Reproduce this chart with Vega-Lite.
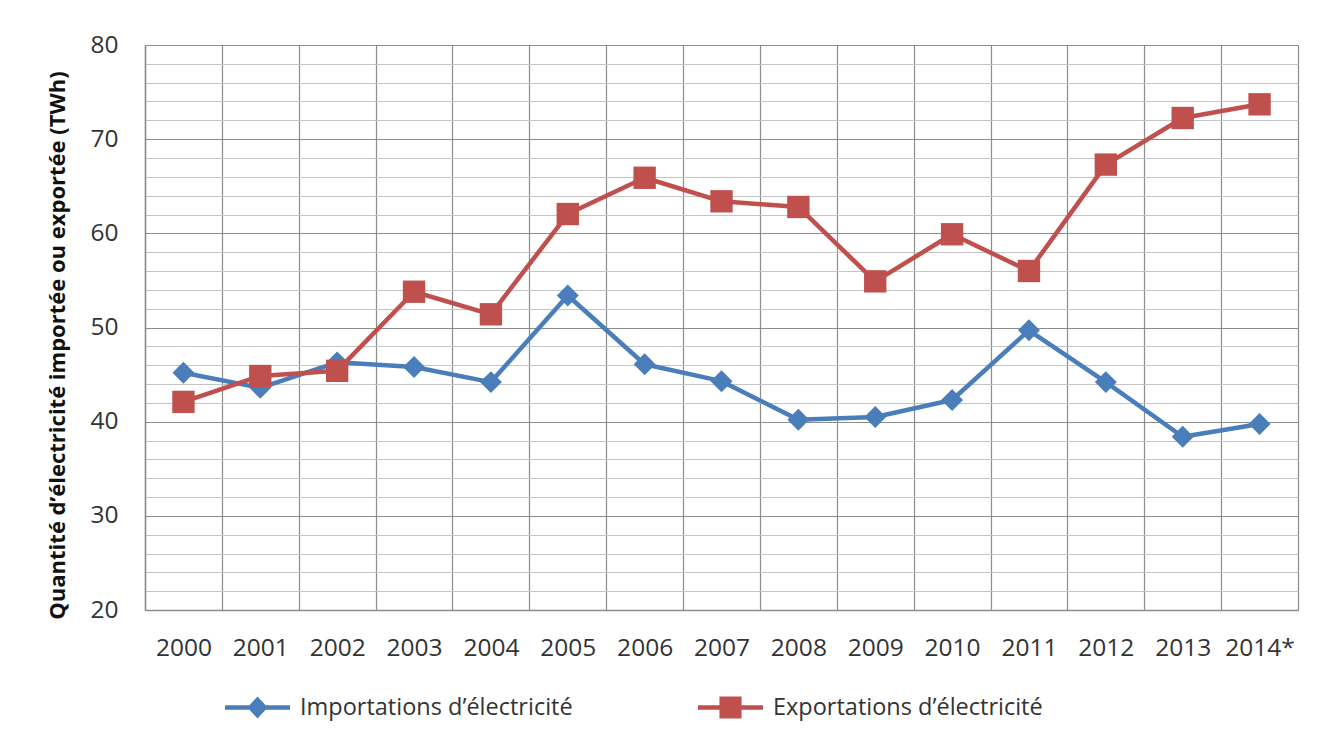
{
  "$schema": "https://vega.github.io/schema/vega-lite/v6.json",
  "autosize": {"type": "none"},
  "width": 1153,
  "height": 565,
  "padding": {"left": 145, "top": 45, "right": 20, "bottom": 132},
  "background": "white",
  "config": {
    "view": {"stroke": null},
    "font": "Open Sans"
  },
  "data": {
    "values": [
      {"annee": "2000", "serie": "Importations d’électricité", "twh": 45.2},
      {"annee": "2001", "serie": "Importations d’électricité", "twh": 43.6},
      {"annee": "2002", "serie": "Importations d’électricité", "twh": 46.3},
      {"annee": "2003", "serie": "Importations d’électricité", "twh": 45.8},
      {"annee": "2004", "serie": "Importations d’électricité", "twh": 44.2},
      {"annee": "2005", "serie": "Importations d’électricité", "twh": 53.4},
      {"annee": "2006", "serie": "Importations d’électricité", "twh": 46.1},
      {"annee": "2007", "serie": "Importations d’électricité", "twh": 44.3},
      {"annee": "2008", "serie": "Importations d’électricité", "twh": 40.2},
      {"annee": "2009", "serie": "Importations d’électricité", "twh": 40.5},
      {"annee": "2010", "serie": "Importations d’électricité", "twh": 42.3},
      {"annee": "2011", "serie": "Importations d’électricité", "twh": 49.7},
      {"annee": "2012", "serie": "Importations d’électricité", "twh": 44.2},
      {"annee": "2013", "serie": "Importations d’électricité", "twh": 38.4},
      {"annee": "2014*", "serie": "Importations d’électricité", "twh": 39.75},
      {"annee": "2000", "serie": "Exportations d’électricité", "twh": 42.1},
      {"annee": "2001", "serie": "Exportations d’électricité", "twh": 44.85},
      {"annee": "2002", "serie": "Exportations d’électricité", "twh": 45.4},
      {"annee": "2003", "serie": "Exportations d’électricité", "twh": 53.8},
      {"annee": "2004", "serie": "Exportations d’électricité", "twh": 51.4},
      {"annee": "2005", "serie": "Exportations d’électricité", "twh": 62.05},
      {"annee": "2006", "serie": "Exportations d’électricité", "twh": 65.9},
      {"annee": "2007", "serie": "Exportations d’électricité", "twh": 63.4},
      {"annee": "2008", "serie": "Exportations d’électricité", "twh": 62.8},
      {"annee": "2009", "serie": "Exportations d’électricité", "twh": 54.9},
      {"annee": "2010", "serie": "Exportations d’électricité", "twh": 59.9},
      {"annee": "2011", "serie": "Exportations d’électricité", "twh": 56.0},
      {"annee": "2012", "serie": "Exportations d’électricité", "twh": 67.3},
      {"annee": "2013", "serie": "Exportations d’électricité", "twh": 72.25},
      {"annee": "2014*", "serie": "Exportations d’électricité", "twh": 73.7}
    ]
  },
  "encoding": {
    "x": {
      "field": "annee", "type": "ordinal",
      "scale": {"paddingInner": 0, "paddingOuter": 0},
      "axis": {
        "title": null, "labelAngle": 0, "tickBand": "extent", "ticks": false,
        "grid": true, "gridColor": "#8c8c8c", "gridWidth": 1.2,
        "domainColor": "#8c8c8c", "domainWidth": 1.5,
        "labelFontSize": 24.5, "labelColor": "#333333", "labelPadding": 26
      }
    },
    "y": {
      "field": "twh", "type": "quantitative",
      "scale": {"domain": [20, 80], "nice": false, "zero": false},
      "axis": {
        "title": "Quantité d’électricité importée ou exportée (TWh)",
        "titleFontSize": 22, "titleFontWeight": "bold", "titleColor": "#111111",
        "titlePadding": 20, "titleY": 300,
        "values": [20,22,24,26,28,30,32,34,36,38,40,42,44,46,48,50,52,54,56,58,60,62,64,66,68,70,72,74,76,78,80],
        "labelExpr": "datum.value % 10 === 0 ? datum.label : ''",
        "ticks": false, "grid": true,
        "gridColor": {"condition": {"test": "datum.value % 10 === 0", "value": "#8c8c8c"}, "value": "#c4c4c4"},
        "gridWidth": 1.2,
        "domainColor": "#8c8c8c", "domainWidth": 1.5,
        "labelFontSize": 24.5, "labelColor": "#333333", "labelPadding": 27
      }
    },
    "color": {
      "field": "serie", "type": "nominal",
      "sort": ["Importations d’électricité", "Exportations d’électricité"],
      "scale": {"domain": ["Importations d’électricité", "Exportations d’électricité"], "range": ["#4a7ebb", "#c0504d"]},
      "legend": {
        "title": null, "orient": "none", "direction": "horizontal",
        "legendX": 80, "legendY": 630, "padding": 0,
        "symbolSize": 4225, "symbolStrokeWidth": 0,
        "labelFontSize": 23.5, "labelColor": "#333333", "labelOffset": 10,
        "columnPadding": 125, "labelLimit": 400,
        "encode": {
          "symbols": {
            "update": {
              "shape": {"signal": "datum.value === 'Importations d’électricité' ? 'M-1,-0.07L-0.25,-0.07L0,-0.34L0.25,-0.07L1,-0.07L1,0.07L0.25,0.07L0,0.34L-0.25,0.07L-1,0.07Z' : 'M-1,-0.07H-0.34V-0.34H0.34V-0.07H1V0.07H0.34V0.34H-0.34V0.07H-1Z'"},
              "size": {"value": 4225},
              "fill": {"signal": "scale('color', datum.value)"},
              "stroke": {"value": "transparent"},
              "opacity": {"value": 1}
            }
          }
        }
      }
    }
  },
  "layer": [
    {
      "mark": {"type": "line", "strokeWidth": 4.5, "strokeJoin": "round"}
    },
    {
      "transform": [{"filter": "datum.serie === 'Importations d’électricité'"}],
      "mark": {"type": "point", "filled": true, "opacity": 1, "shape": "diamond", "size": 480}
    },
    {
      "transform": [{"filter": "datum.serie === 'Exportations d’électricité'"}],
      "mark": {"type": "point", "filled": true, "opacity": 1, "shape": "square", "size": 500}
    }
  ]
}
